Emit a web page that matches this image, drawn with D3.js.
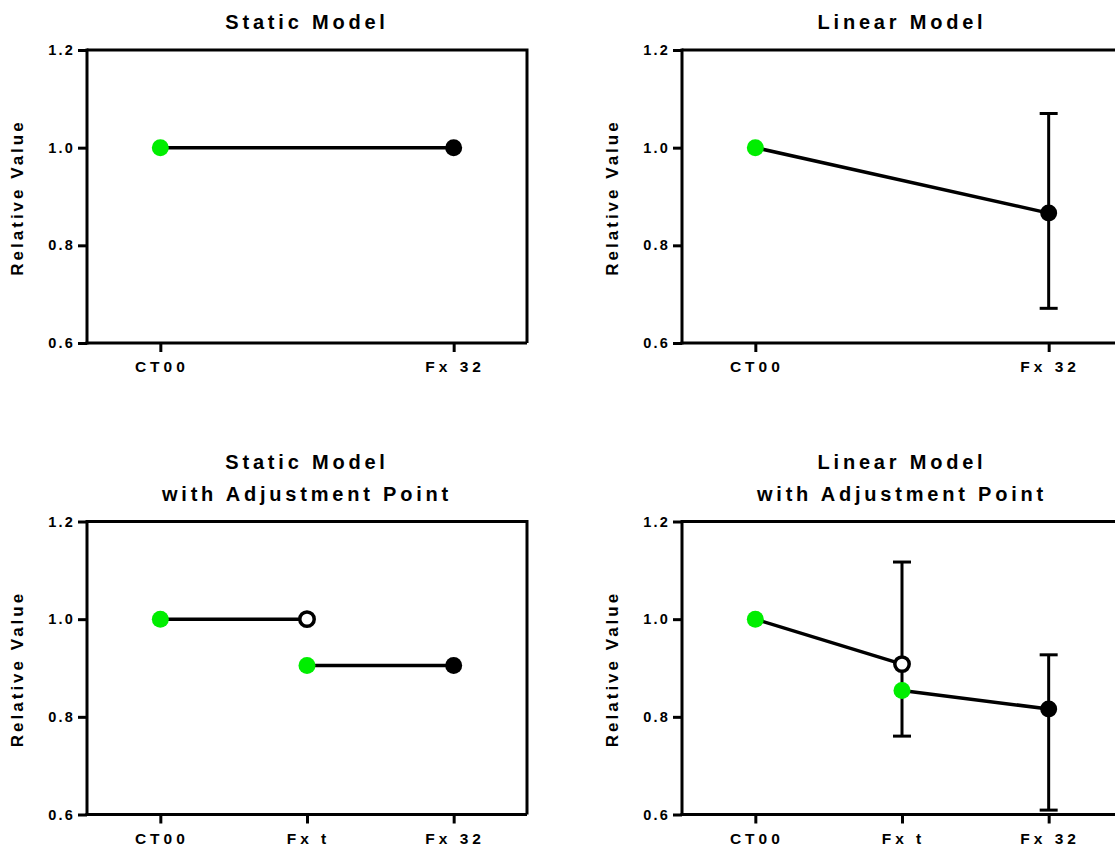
<!DOCTYPE html>
<html>
<head>
<meta charset="utf-8">
<script src="https://cdn.jsdelivr.net/npm/d3@7"></script>
<style>
  html, body { margin: 0; padding: 0; background: #fff; }
  svg { display: block; }
  text { font-family: "Liberation Sans", Arial, sans-serif; font-weight: bold; fill: #000; }
</style>
</head>
<body>
<svg id="chart" width="1115" height="851"></svg>
<script>
// ---------- data ----------
const cats2 = ["CT00", "Fx 32"];
const cats3 = ["CT00", "Fx t", "Fx 32"];
const yTicks = [0.6, 0.8, 1.0, 1.2];
const yDomain = [0.6, 1.2];
const yLabel = "Relative Value";

const titleStatic = ["Static Model"];
const titleLinear = ["Linear Model"];
const titleStaticAdj = ["Static Model", "with Adjustment Point"];
const titleLinearAdj = ["Linear Model", "with Adjustment Point"];

// Static model
const staticCats = ["CT00", "Fx 32"];
const staticVals = [1.0, 1.0];

// Linear model
const linearCats = ["CT00", "Fx 32"];
const linearVals = [1.0, 0.866];
const linearErrCats = ["Fx 32"];
const linearErrLow = [0.671];
const linearErrHigh = [1.070];

// Static model with adjustment point
const staticAdjSeg1Cats = ["CT00", "Fx t"];
const staticAdjSeg1Vals = [1.0, 1.0];
const staticAdjSeg2Cats = ["Fx t", "Fx 32"];
const staticAdjSeg2Vals = [0.905, 0.905];

// Linear model with adjustment point
const linearAdjSeg1Cats = ["CT00", "Fx t"];
const linearAdjSeg1Vals = [1.0, 0.908];
const linearAdjSeg2Cats = ["Fx t", "Fx 32"];
const linearAdjSeg2Vals = [0.854, 0.816];
const linearAdjErrCats = ["Fx t", "Fx 32"];
const linearAdjErrLow = [0.7605, 0.609];
const linearAdjErrHigh = [1.117, 0.927];

// ---------- panel specs ----------
const GREEN = "#00ee00";
const panels = [
  { title: titleStatic, cats: cats2, pad: 0.25, left: 87, top: 50,
    segs: [{ cats: staticCats, vals: staticVals, end: "filled" }], err: null },
  { title: titleLinear, cats: cats2, pad: 0.25, left: 682, top: 50,
    segs: [{ cats: linearCats, vals: linearVals, end: "filled" }],
    err: { cats: linearErrCats, low: linearErrLow, high: linearErrHigh } },
  { title: titleStaticAdj, cats: cats3, pad: 0.5, left: 87, top: 521.5,
    segs: [{ cats: staticAdjSeg1Cats, vals: staticAdjSeg1Vals, end: "open" },
           { cats: staticAdjSeg2Cats, vals: staticAdjSeg2Vals, end: "filled" }], err: null },
  { title: titleLinearAdj, cats: cats3, pad: 0.5, left: 682, top: 521.5,
    segs: [{ cats: linearAdjSeg1Cats, vals: linearAdjSeg1Vals, end: "open" },
           { cats: linearAdjSeg2Cats, vals: linearAdjSeg2Vals, end: "filled" }],
    err: { cats: linearAdjErrCats, low: linearAdjErrLow, high: linearAdjErrHigh } }
];

const W = 440, H = 293;
const svg = d3.select("#chart");

panels.forEach(p => {
  const g = svg.append("g").attr("transform", `translate(${p.left},${p.top})`);
  const x = d3.scalePoint().domain(p.cats).range([0, W]).padding(p.pad);
  const y = d3.scaleLinear().domain(yDomain).range([H, 0]);

  // frame (top & right)
  g.append("path")
    .attr("d", `M0,0H${W}V${H}`)
    .attr("fill", "none").attr("stroke", "#000").attr("stroke-width", 3);

  // y axis
  const ya = g.append("g").call(d3.axisLeft(y).tickValues(yTicks).tickFormat(d3.format(".1f")).tickSize(9).tickSizeOuter(0).tickPadding(3));
  // x axis
  const xa = g.append("g").attr("transform", `translate(0,${H})`)
    .call(d3.axisBottom(x).tickSize(9).tickSizeOuter(0).tickPadding(9));
  [ya, xa].forEach(a => {
    a.select(".domain").attr("stroke-width", 3).attr("stroke", "#000");
    a.selectAll(".tick line").attr("stroke-width", 3).attr("stroke", "#000");
    a.selectAll(".tick text")
      .attr("font-family", "Liberation Sans, Arial, sans-serif").attr("font-weight", "bold").attr("fill", "#000");
  });
  ya.selectAll(".tick text").attr("font-size", 14.5).attr("letter-spacing", "2.2px");
  xa.selectAll(".tick text").attr("font-size", 15.5).attr("letter-spacing", "4px").attr("dx", "1px");
  ya.select(".domain").attr("d", `M0,${H + 1.5}V${-1.5}`);
  xa.select(".domain").attr("d", `M${-1.5},0H${W}`);

  // y label
  g.append("text")
    .attr("transform", `translate(-64,${H / 2 + 1}) rotate(-90)`)
    .attr("text-anchor", "middle")
    .attr("font-size", 17).attr("letter-spacing", "3px")
    .text(yLabel);

  // title
  const nT = p.title.length;
  p.title.forEach((t, i) => {
    g.append("text")
      .attr("x", W / 2)
      .attr("y", -21 - (nT - 1 - i) * 32)
      .attr("text-anchor", "middle")
      .attr("font-size", 20).attr("letter-spacing", "3.8px")
      .text(t);
  });

  // error bars
  if (p.err) {
    p.err.cats.forEach((c, i) => {
      const cx = x(c);
      const eg = g.append("g").attr("stroke", "#000").attr("stroke-width", 3);
      eg.append("line").attr("x1", cx).attr("x2", cx).attr("y1", y(p.err.low[i])).attr("y2", y(p.err.high[i]));
      [p.err.low[i], p.err.high[i]].forEach(v => {
        eg.append("line").attr("x1", cx - 9).attr("x2", cx + 9).attr("y1", y(v)).attr("y2", y(v));
      });
    });
  }

  // segments
  p.segs.forEach(s => {
    const pts = s.cats.map((c, i) => [x(c), y(s.vals[i])]);
    g.append("path").attr("d", d3.line()(pts))
      .attr("fill", "none").attr("stroke", "#000").attr("stroke-width", 3.5);
  });
  p.segs.forEach(s => {
    const pts = s.cats.map((c, i) => [x(c), y(s.vals[i])]);
    g.append("circle").attr("cx", pts[0][0]).attr("cy", pts[0][1]).attr("r", 8.5).attr("fill", GREEN);
    const last = pts[pts.length - 1];
    if (s.end === "open") {
      g.append("circle").attr("cx", last[0]).attr("cy", last[1]).attr("r", 7.2)
        .attr("fill", "#fff").attr("stroke", "#000").attr("stroke-width", 3.5);
    } else {
      g.append("circle").attr("cx", last[0]).attr("cy", last[1]).attr("r", 8.5).attr("fill", "#000");
    }
  });
});
</script>
</body>
</html>
